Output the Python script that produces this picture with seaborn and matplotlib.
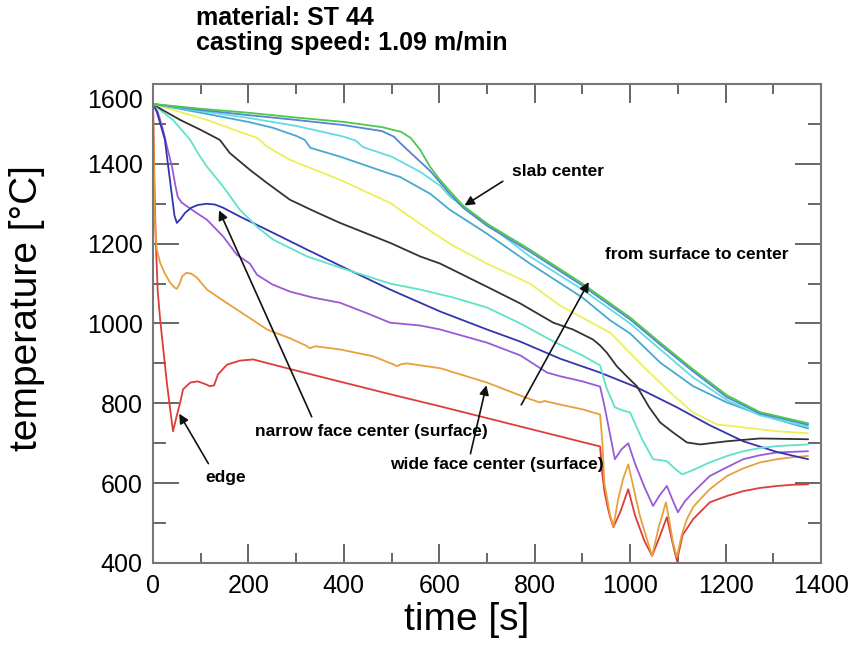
import matplotlib
matplotlib.use("Agg")
import matplotlib.pyplot as plt
import matplotlib.transforms as mtransforms
import seaborn as sns
import pandas as pd

# ---------------- data ----------------
red_t = [0, 3, 6, 10, 15, 22, 29, 36, 42, 50, 57, 63, 78, 94, 110, 119, 128, 136, 155, 182, 210,
         300, 400, 500, 600, 700, 800, 900, 937, 942, 946, 952, 958, 965, 980, 996, 1010, 1030, 1046,
         1060, 1077, 1087, 1098, 1110, 1132, 1167, 1203, 1237, 1272, 1308, 1340, 1373]
red_T = [1550, 1350, 1200, 1080, 1010, 930, 852, 785, 730, 770, 802, 835, 852, 855, 848, 843, 845, 872, 897, 907, 910,
         882, 852, 822, 793, 763, 733, 703, 692, 620, 580, 545, 515, 490, 530, 585, 520, 455, 418,
         460, 515, 460, 405, 470, 510, 552, 568, 580, 588, 593, 596, 597]

orange_t = [0, 2, 4, 8, 15, 25, 36, 45, 50, 56, 61, 70, 80, 92, 113, 150, 182, 210, 239, 287, 320, 329, 340,
            392, 461, 505, 511, 520, 532, 602, 700, 780, 811, 820, 853, 900, 937, 942, 946, 952, 958, 965,
            975, 985, 996, 1005, 1020, 1035, 1046, 1060, 1075, 1083, 1090, 1098, 1108, 1119, 1132, 1147,
            1167, 1203, 1237, 1272, 1308, 1340, 1373]
orange_T = [1550, 1400, 1250, 1185, 1152, 1125, 1102, 1090, 1087, 1100, 1118, 1127, 1125, 1115, 1085, 1055, 1030, 1008, 985, 963, 945, 938, 943,
            935, 918, 897, 893, 898, 900, 888, 852, 815, 802, 806, 797, 785, 772, 700, 600, 560, 520, 492,
            560, 610, 647, 600, 520, 460, 418, 490, 552, 500, 450, 415, 470, 510, 540, 560,
            585, 618, 637, 652, 660, 665, 668]

purple_t = [0, 10, 20, 30, 40, 47, 52, 60, 73, 90, 113, 147, 176, 203, 218, 250, 287, 335, 392, 450, 497,
            560, 602, 700, 770, 826, 853, 900, 937, 945, 955, 968, 982, 996, 1010, 1030, 1048, 1062, 1077,
            1090, 1100, 1115, 1132, 1167, 1203, 1237, 1272, 1308, 1373]
purple_T = [1550, 1530, 1490, 1440, 1392, 1345, 1317, 1303, 1292, 1278, 1260, 1218, 1172, 1150, 1122, 1098, 1080, 1065, 1052, 1025, 1002,
            995, 985, 952, 920, 877, 868, 855, 842, 800, 740, 660, 685, 700, 650, 590, 543, 570, 593,
            555, 527, 555, 577, 618, 640, 660, 670, 677, 680]

navy_t = [0, 8, 15, 25, 31, 36, 40, 45, 50, 58, 67, 80, 94, 113, 130, 147, 182, 252, 323, 392, 497,
          602, 700, 769, 853, 937, 1014, 1098, 1167, 1237, 1308, 1373]
navy_T = [1550, 1530, 1502, 1460, 1402, 1355, 1317, 1270, 1252, 1262, 1277, 1290, 1297, 1300, 1298, 1290, 1268, 1227, 1185, 1145, 1085,
          1030, 985, 955, 912, 877, 840, 790, 745, 705, 678, 660]

turq_t = [0, 20, 42, 60, 78, 95, 113, 147, 182, 220, 252, 323, 392, 450, 497, 560, 630, 700, 770, 839,
          900, 937, 950, 968, 985, 1000, 1025, 1048, 1062, 1077, 1095, 1109, 1130, 1167, 1203, 1237,
          1272, 1308, 1373]
turq_T = [1550, 1530, 1510, 1485, 1460, 1425, 1393, 1343, 1285, 1240, 1210, 1168, 1140, 1118, 1100, 1085, 1065, 1040, 1000, 955,
          920, 895, 840, 790, 782, 777, 710, 660, 658, 655, 635, 622, 632, 652, 668, 680,
          688, 693, 697]

black_t = [0, 20, 57, 100, 140, 161, 203, 239, 287, 340, 392, 497, 560, 602, 700, 770, 839, 880, 922,
           937, 951, 972, 995, 1014, 1040, 1063, 1090, 1119, 1147, 1203, 1272, 1373]
black_T = [1550, 1535, 1510, 1485, 1460, 1427, 1385, 1352, 1310, 1280, 1252, 1202, 1168, 1150, 1092, 1050, 1002, 985, 960,
           945, 927, 893, 865, 843, 790, 752, 727, 702, 697, 705, 712, 710]

yellow_t = [0, 42, 113, 182, 218, 239, 287, 392, 497, 581, 629, 700, 790, 853, 958, 1027, 1084, 1132,
            1182, 1237, 1308, 1373]
yellow_T = [1550, 1535, 1510, 1480, 1465, 1443, 1410, 1360, 1302, 1232, 1195, 1150, 1100, 1045, 977, 893, 827, 777,
            747, 740, 730, 725]

steel_t = [0, 100, 200, 252, 300, 318, 330, 392, 497, 518, 581, 622, 700, 790, 900, 958, 1000, 1063,
           1132, 1203, 1272, 1373]
steel_T = [1550, 1528, 1505, 1490, 1470, 1460, 1440, 1418, 1375, 1367, 1325, 1285, 1225, 1150, 1065, 1008, 975, 902,
           843, 802, 772, 737]

cyan_t = [0, 100, 200, 300, 400, 425, 440, 500, 560, 602, 622, 700, 790, 900, 1000, 1063, 1132, 1203,
          1272, 1373]
cyan_T = [1550, 1532, 1515, 1495, 1468, 1458, 1442, 1418, 1380, 1345, 1318, 1250, 1168, 1085, 1000, 935, 865, 808,
          770, 741]

blue_t = [0, 100, 200, 300, 400, 480, 505, 520, 545, 581, 622, 650, 700, 790, 900, 1000, 1063, 1132,
          1203, 1272, 1373]
blue_T = [1550, 1535, 1522, 1510, 1497, 1482, 1468, 1450, 1422, 1382, 1325, 1290, 1245, 1180, 1095, 1010, 947, 880,
          815, 775, 746]

green_t = [0, 100, 200, 300, 400, 480, 520, 540, 560, 581, 600, 622, 650, 700, 790, 900, 1000, 1063,
           1132, 1203, 1272, 1373]
green_T = [1550, 1538, 1528, 1516, 1505, 1492, 1480, 1465, 1435, 1392, 1362, 1332, 1295, 1250, 1185, 1100, 1015, 952,
           885, 820, 778, 750]

series = [
    ("edge", red_t, red_T, "#dc3c3c"),
    ("wide face", orange_t, orange_T, "#e8a03c"),
    ("purple", purple_t, purple_T, "#9a5ad8"),
    ("narrow face", navy_t, navy_T, "#3434ae"),
    ("turquoise", turq_t, turq_T, "#5ee2c8"),
    ("black", black_t, black_T, "#333333"),
    ("yellow", yellow_t, yellow_T, "#eeee58"),
    ("steel", steel_t, steel_T, "#48a8d0"),
    ("cyan", cyan_t, cyan_T, "#62dbe6"),
    ("blue", blue_t, blue_T, "#5484d4"),
    ("slab center", green_t, green_T, "#4cc84c"),
]

x_ticks = [0, 200, 400, 600, 800, 1000, 1200, 1400]
y_ticks = [400, 600, 800, 1000, 1200, 1400, 1600]

title_lines = ["material: ST 44", "casting speed: 1.09 m/min"]

# ---------------- figure ----------------
sns.set_style("white")
plt.rcParams["font.family"] = ["Liberation Sans", "DejaVu Sans"]
plt.rcParams["text.color"] = "black"
plt.rcParams["axes.labelcolor"] = "black"

fig = plt.figure(figsize=(8.61, 6.55), dpi=100)
ax = fig.add_axes([153 / 861, 1 - 563 / 655, (821 - 153) / 861, (563 - 84) / 655])

for name, t, T, col in series:
    df = pd.DataFrame({"t": t, "T": T})
    sns.lineplot(data=df, x="t", y="T", ax=ax, color=col, lw=1.3,
                 estimator=None, sort=False, legend=False)

ax.set_xlim(0, 1400)
ax.set_ylim(400, 1600)
ax.set_xticks(x_ticks)
ax.set_yticks(y_ticks)
ax.set_xticks(range(100, 1400, 200), minor=True)
ax.set_yticks(range(500, 1600, 200), minor=True)
ax.set_xticklabels([str(v) for v in x_ticks], fontsize=18)
ax.set_yticklabels([str(v) for v in y_ticks], fontsize=18)

for s in ax.spines.values():
    s.set_color("#777777")
    s.set_linewidth(1.5)

ax.tick_params(axis="x", which="major", direction="in", length=14, width=1.4,
               color="#666666", labelcolor="black", top=True, bottom=True, pad=8)
ax.tick_params(axis="x", which="minor", direction="in", length=7, width=1.4,
               color="#666666", top=True, bottom=True)
ax.tick_params(axis="y", which="major", direction="in", length=19, width=1.4,
               color="#666666", labelcolor="black", left=True, right=True, pad=7.5)
ax.tick_params(axis="y", which="minor", direction="in", length=9.5, width=1.4,
               color="#666666", left=True, right=True)

# nudge the top y label down like in the reference
for lab in ax.get_yticklabels():
    if lab.get_text() == "1600":
        lab.set_transform(lab.get_transform() +
                          mtransforms.ScaledTranslation(0, -14 / 100, fig.dpi_scale_trans))

ax.set_xlabel("time [s]", fontsize=28, color="black")
ax.set_ylabel("temperature [°C]", fontsize=28, color="black")
ax.xaxis.set_label_coords((467 - 153) / 668, (563 - 620) / 479)
ax.yaxis.set_label_coords((27 - 153) / 668, (563 - 308) / 479)
ax.xaxis.label.set_va("center")
ax.yaxis.label.set_va("center")

# title text
fig.text(196 / 861, 1 - 18 / 655, title_lines[0], fontsize=18, fontweight="bold",
         ha="left", va="center", color="black")
fig.text(196 / 861, 1 - 43 / 655, title_lines[1], fontsize=18, fontweight="bold",
         ha="left", va="center", color="black")

# annotations
arrow = dict(arrowstyle="-|>", color="#111111", lw=1.2, mutation_scale=14)
fs = 12.5
ax.annotate("", xy=(648, 1292), xytext=(738, 1360), arrowprops=arrow)
ax.text(752, 1380, "slab center", fontsize=fs, fontweight="bold", ha="left", va="center")

ax.annotate("", xy=(916, 1110), xytext=(769, 790), arrowprops=arrow)
ax.text(947, 1172, "from surface to center", fontsize=fs, fontweight="bold", ha="left", va="center")

ax.annotate("", xy=(136, 1290), xytext=(335, 760), arrowprops=arrow)
ax.text(214, 730, "narrow face center (surface)", fontsize=fs, fontweight="bold", ha="left", va="center")

ax.annotate("", xy=(700, 852), xytext=(664, 667), arrowprops=arrow)
ax.text(497, 648, "wide face center (surface)", fontsize=fs, fontweight="bold", ha="left", va="center")

ax.annotate("", xy=(52, 780), xytext=(119, 643), arrowprops=arrow)
ax.text(109, 615, "edge", fontsize=fs, fontweight="bold", ha="left", va="center")

fig.savefig("out.png", dpi=100)
